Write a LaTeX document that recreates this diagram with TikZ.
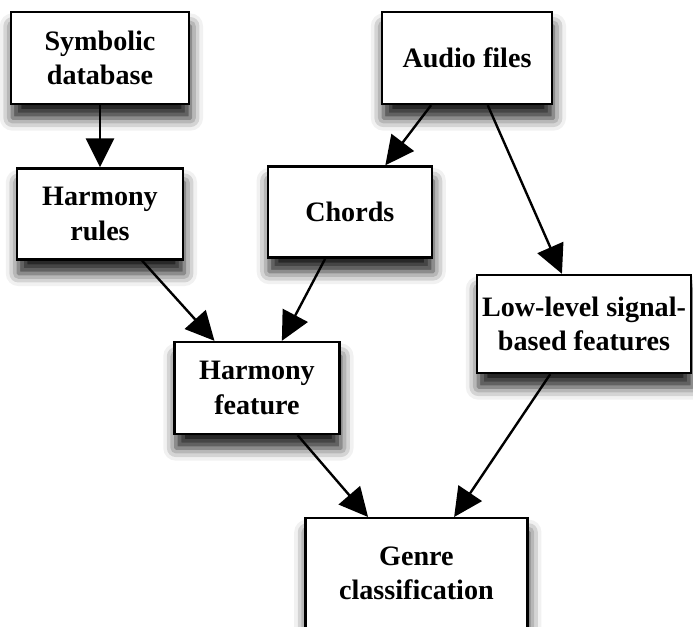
\documentclass[tikz,border=0pt]{standalone}
\usepackage{fontspec}
\setmainfont{Liberation Serif}
\usetikzlibrary{positioning,arrows.meta,shadows.blur}

\begin{document}
\begin{tikzpicture}
[box/.style={draw,line width=1.7pt,fill=white,align=center,
  font=\fontsize{20}{24.5}\selectfont\bfseries,
  blur shadow={shadow xshift=1pt,shadow yshift=-10pt,shadow blur radius=9pt,shadow opacity=90}},
 arr/.style={line width=1.7pt,-{Triangle[length=0.72cm,width=0.7cm]}}]
\useasboundingbox (0,0) rectangle (17.325,-15.65);
\node[box,minimum width=4.45cm,minimum height=2.3cm] (sym) at (2.5,-1.45) {Symbolic\\database};
\node[box,minimum width=4.25cm,minimum height=2.3cm] (audio) at (11.675,-1.45) {Audio files};
\node[box,minimum width=4.15cm,minimum height=2.275cm,below =1.55cm of sym] (rules) {Harmony\\rules};
\node[box,minimum width=4.1cm,minimum height=2.275cm] (chords) at (8.745,-5.3) {Chords};
\node[box,minimum width=5.35cm,minimum height=2.45cm] (low) at (14.6,-8.1) {Low-level signal-\\based features};
\node[box,minimum width=4.125cm,minimum height=2.3cm] (feat) at (6.425,-9.7) {Harmony\\feature};
\node[box,minimum width=5.55cm,minimum height=2.75cm] (genre) at (10.41,-14.33) {Genre\\classification};
\path[arr] (sym) edge (rules); \path[arr] (audio) edge (chords);
\path[arr] (audio) edge (low); \path[arr] (rules) edge (feat);
\path[arr] (chords) edge (feat); \path[arr] (feat) edge (genre);
\path[arr] (low) edge (genre);
\end{tikzpicture}
\end{document}
